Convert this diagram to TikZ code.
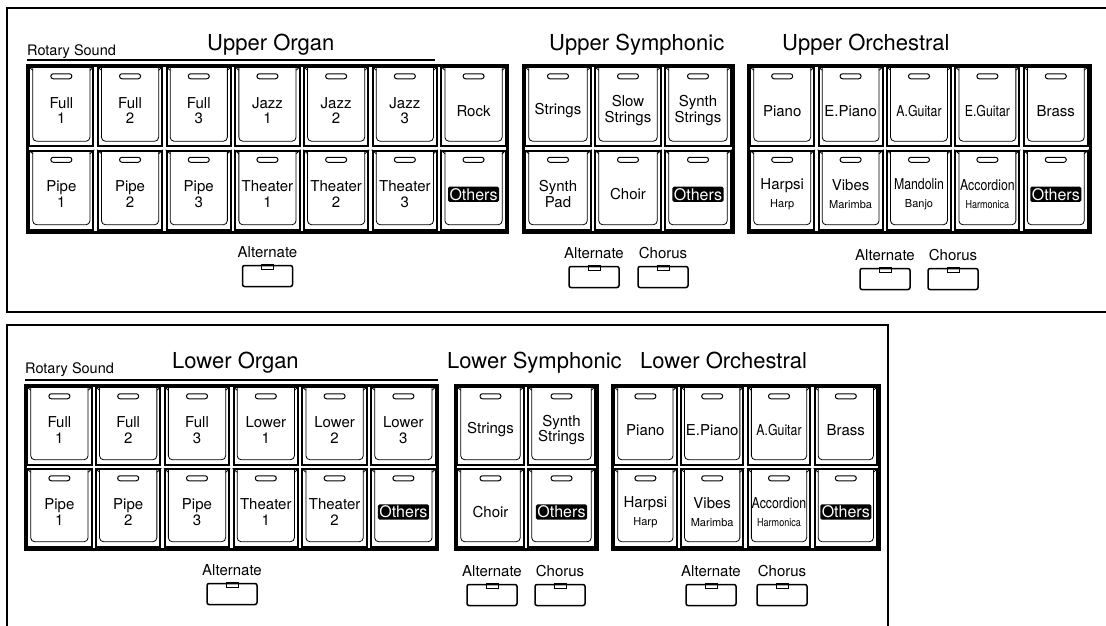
\documentclass[tikz,border=0pt]{standalone}
\usepackage{fontspec}
\setmainfont{TeX Gyre Heros}
\usetikzlibrary{calc,positioning}

\tikzset{
  panel/.style={draw, line width=2pt},
  keyframe/.style={draw, line width=3pt},
  keycell/.style={draw, line width=2pt, fill=white, inner sep=0pt},
  faceline/.style={line width=.8pt, rounded corners=4pt},
  led/.style={draw, line width=1pt, fill=white, rounded corners=2.4pt,
    minimum width=21pt, minimum height=5pt, inner sep=0pt},
  keytext/.style={align=center, font=\fontsize{15}{15.5}\selectfont, inner sep=0pt},
  othertext/.style={fill=black, text=white, font=\fontsize{16}{16}\selectfont,
    inner sep=1.5pt, rounded corners=1.5pt},
  heading/.style={font=\fontsize{22}{22}\selectfont, inner sep=0pt},
  rotary/.style={font=\fontsize{14.5}{14.5}\selectfont, inner sep=0pt},
  btnlabel/.style={font=\fontsize{15}{15}\selectfont, inner sep=0pt},
  smallbtn/.style={draw, line width=1.5pt, rounded corners=2pt,
    minimum width=50pt, minimum height=21pt, inner sep=0pt},
  rule/.style={line width=1.5pt},
}

\newcommand{\subl}[1]{{\fontsize{11}{11}\selectfont #1}}
\newcommand{\narrow}[1]{\scalebox{0.82}[1]{#1}}

% prefix, left x, centre y, pitch, cell height, labels
\newcommand{\keyrow}[6]{%
  \foreach \lab/\sty [count=\i] in {#6}{
    \pgfmathsetmacro{\cx}{#2+(\i-0.5)*#4}
    \node[keycell, minimum width=#4-4.5, minimum height=#5] (#1\i) at (\cx,#3) {};
    \draw[faceline] ($(#1\i.north west)+(4.5,1)$) -- ($(#1\i.south west)+(4.5,-6)$)
      -- ($(#1\i.south east)+(-4.5,-6)$) -- ($(#1\i.north east)+(-4.5,1)$);
    \draw[line width=.8pt] (#1\i.north west) -- ++(4.5,4) (#1\i.north east) -- ++(-4.5,4);
    \node[led] (#1\i-led) at ($(#1\i.north)+(0,10)$) {};
    \node[\sty] (#1\i-txt) at ($(#1\i.center)+(0,4)$) {\lab};
  }}

% name, x, y, label
\newcommand{\tabbtn}[4]{%
  \node[smallbtn] (#1) at (#2,#3) {};
  \draw[line width=1pt] ($(#1.north)+(-6,0)$) rectangle ($(#1.north)+(6,4.5)$);
  \node[btnlabel, above=7pt of #1] (#1-l) {#4};
}

\begin{document}
\begin{tikzpicture}[x=1pt, y=-1pt]
\useasboundingbox (0,0) rectangle (1106,625);
\clip (0,0) rectangle (1106,625);

\draw[panel] (7,8) rectangle (1120,312);
\draw[panel] (7,325) rectangle (888,640);

% upper organ
\node[rotary, anchor=base west] (urot) at (27,55) {Rotary Sound};
\coordinate (urule-a) at (27,60);
\coordinate (urule-b) at (435,60);
\draw[rule] (urule-a) -- (urule-b);
\node[heading, anchor=base west] (uorg-h) at (207,50) {Upper Organ};
\draw[keyframe] (27,65) rectangle (507.9,232);
\keyrow{uorga}{27}{106.75}{68.7}{79}{{Full\\1}/keytext, {Full\\2}/keytext, {Full\\3}/keytext,
  {Jazz\\1}/keytext, {Jazz\\2}/keytext, {Jazz\\3}/keytext, Rock/keytext}
\keyrow{uorgb}{27}{190.25}{68.7}{79}{{Pipe\\1}/keytext, {Pipe\\2}/keytext, {Pipe\\3}/keytext,
  {Theater\\1}/keytext, {Theater\\2}/keytext, {Theater\\3}/keytext, Others/othertext}
\tabbtn{uorg-alt}{267.5}{276}{Alternate}

% upper symphonic
\node[heading, anchor=base west] (usym-h) at (549,50) {Upper Symphonic};
\draw[keyframe] (523,65) rectangle (733,232);
\keyrow{usyma}{523}{106.75}{70}{79}{Strings/keytext, {Slow\\Strings}/keytext, {Synth\\Strings}/keytext}
\keyrow{usymb}{523}{190.25}{70}{79}{{Synth\\Pad}/keytext, Choir/keytext, Others/othertext}
\tabbtn{usym-alt}{594}{277}{Alternate}
\tabbtn{usym-cho}{663}{277}{Chorus}

% upper orchestral
\node[heading, anchor=base west] (uorc-h) at (782,50) {Upper Orchestral};
\draw[keyframe] (748,65) rectangle (1090,232);
\keyrow{uorca}{748}{106.75}{68.4}{79}{Piano/keytext, E.Piano/keytext, \narrow{A.Guitar}/keytext,
  \narrow{E.Guitar}/keytext, Brass/keytext}
\keyrow{uorcb}{748}{190.25}{68.4}{79}{{Harpsi\\[3pt]\subl{Harp}}/keytext, {Vibes\\[3pt]\subl{Marimba}}/keytext,
  {\narrow{Mandolin}\\[3pt]\subl{Banjo}}/keytext, {\narrow{Accordion}\\[3pt]\subl{\narrow{Harmonica}}}/keytext,
  Others/othertext}
\tabbtn{uorc-alt}{885}{279}{Alternate}
\tabbtn{uorc-cho}{953}{279}{Chorus}

% lower organ
\node[rotary, anchor=base west] (lrot) at (25,373) {Rotary Sound};
\coordinate (lrule-a) at (25,380);
\coordinate (lrule-b) at (438,380);
\draw[rule] (lrule-a) -- (lrule-b);
\node[heading, anchor=base west] (lorg-h) at (172,368) {Lower Organ};
\draw[keyframe] (25,385) rectangle (437.8,549);
\keyrow{lorga}{25}{426}{68.8}{77.5}{{Full\\1}/keytext, {Full\\2}/keytext, {Full\\3}/keytext,
  {Lower\\1}/keytext, {Lower\\2}/keytext, {Lower\\3}/keytext}
\keyrow{lorgb}{25}{508}{68.8}{77.5}{{Pipe\\1}/keytext, {Pipe\\2}/keytext, {Pipe\\3}/keytext,
  {Theater\\1}/keytext, {Theater\\2}/keytext, Others/othertext}
\tabbtn{lorg-alt}{232}{594}{Alternate}

% lower symphonic
\node[heading, anchor=base west] (lsym-h) at (447,368) {Lower Symphonic};
\draw[keyframe] (455,385) rectangle (597,549);
\keyrow{lsyma}{455}{426}{71}{77.5}{Strings/keytext, {Synth\\Strings}/keytext}
\keyrow{lsymb}{455}{508}{71}{77.5}{Choir/keytext, Others/othertext}
\tabbtn{lsym-alt}{492}{595}{Alternate}
\tabbtn{lsym-cho}{560}{595}{Chorus}

% lower orchestral
\node[heading, anchor=base west] (lorc-h) at (640,368) {Lower Orchestral};
\draw[keyframe] (612,385) rectangle (879.2,549);
\keyrow{lorca}{612}{426}{66.8}{77.5}{Piano/keytext, E.Piano/keytext, \narrow{A.Guitar}/keytext, Brass/keytext}
\keyrow{lorcb}{612}{508}{66.8}{77.5}{{Harpsi\\[3pt]\subl{Harp}}/keytext, {Vibes\\[3pt]\subl{Marimba}}/keytext,
  {\narrow{Accordion}\\[3pt]\subl{\narrow{Harmonica}}}/keytext, Others/othertext}
\tabbtn{lorc-alt}{711}{595}{Alternate}
\tabbtn{lorc-cho}{782}{595}{Chorus}
\end{tikzpicture}
\end{document}
